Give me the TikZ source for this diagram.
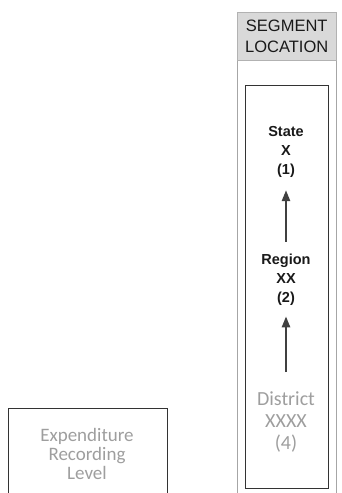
\documentclass[tikz,border=0pt]{standalone}
\usepackage{fontspec}
\setmainfont{Liberation Sans}
\newfontfamily\calibri{Carlito}
\usetikzlibrary{positioning,arrows.meta}

\begin{document}
\begin{tikzpicture}[
  x=1pt, y=-1pt,
  level/.style={align=center, text=black!90, font=\bfseries\fontsize{14.5}{19}\selectfont},
  recorded/.style={align=center, text=black!38, font=\calibri\fontsize{20}{22}\selectfont},
  up/.style={-{Triangle[length=11pt,width=8pt]}, line width=2.4pt, black!75}
]
\useasboundingbox (0,0) rectangle (342,493);
\clip (0,0) rectangle (342,493);

% segment column
\draw[black!35] (237,12) -- (237,493) (336,12) -- (336,493);
\node (head) [fill=black!15, draw=black!30, minimum width=99pt, minimum height=48pt,
  anchor=north west, inner sep=0pt, align=center, text=black!90,
  font=\fontsize{16.5}{21}\selectfont] at (237,12) {SEGMENT\\LOCATION};

\draw[black!80, line width=1pt] (245,85) rectangle (328,488);

\node (state) [level] at (286,152) {State\\X\\(1)};
\node (region) [level] at (286,280) {Region\\XX\\(2)};
\node (district) [recorded] at (286,422) {District\\XXXX\\(4)};

\draw[up, shorten <=9pt, shorten >=9pt] (region) -- (state);
\draw[up, shorten <=16pt, shorten >=7pt] (district) -- (region);

% recording level
\draw[black!80, line width=1pt] (8,500) |- (167,408) -- (167,500);
\node (level) [recorded, font=\calibri\fontsize{19}{19}\selectfont] at (87,454) {Expenditure\\Recording\\Level};
\end{tikzpicture}
\end{document}
